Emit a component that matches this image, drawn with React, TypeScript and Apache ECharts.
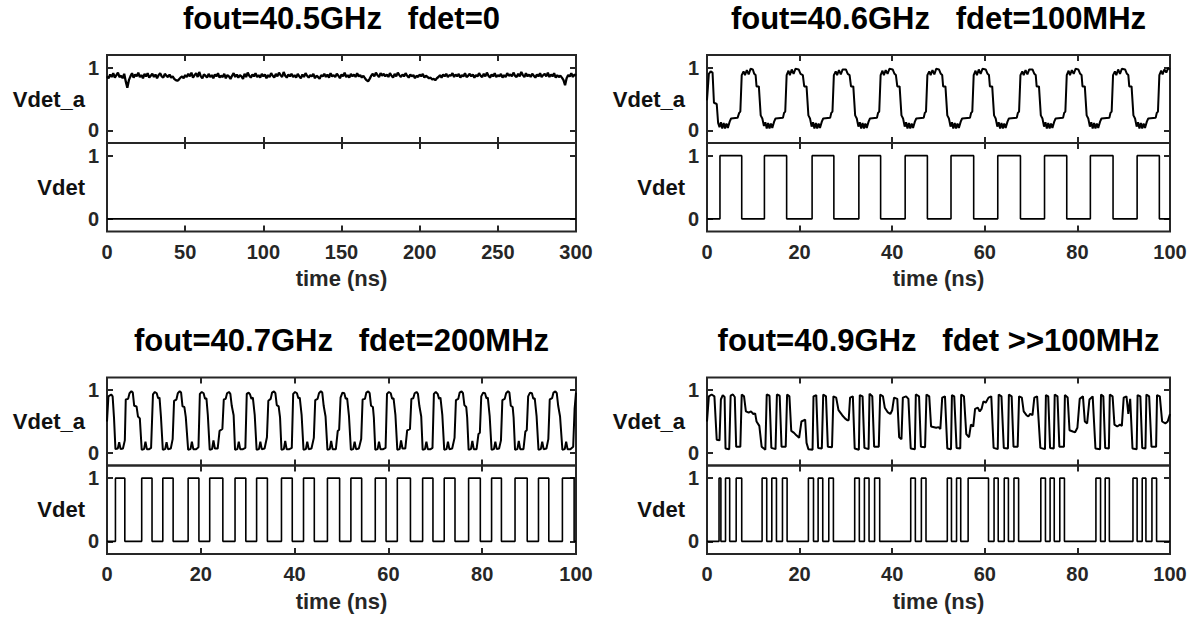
import React, { useEffect, useRef } from "react";
import * as echarts from "echarts";

// ---------------- data ----------------
const TITLES = [
  "fout=40.5GHz   fdet=0",
  "fout=40.6GHz   fdet=100MHz",
  "fout=40.7GHz   fdet=200MHz",
  "fout=40.9GHz   fdet >>100MHz",
];
const X_MAX = [300, 100, 100, 100];
const X_INTERVAL = [50, 20, 20, 20];
const Y_TICKS = [0, 1];
const X_NAME = "time (ns)";
const UPPER_LABEL = "Vdet_a";
const LOWER_LABEL = "Vdet";

// panel A (fdet = 0): Vdet_a sampled every 1 ns, Vdet stays at 0
const A_STEP_NS = 1;
const A_VDETA = [
  0.86, 0.83, 0.89, 0.85, 0.91, 0.84, 0.88, 0.92, 0.85, 0.87, 0.83, 0.9, 0.78, 0.68, 0.8, 0.86, 0.91, 0.84, 0.89, 0.86,
  0.92, 0.85, 0.88, 0.83, 0.9, 0.86, 0.91, 0.84, 0.87, 0.9, 0.85, 0.89, 0.83, 0.88, 0.91, 0.86, 0.84, 0.9, 0.87, 0.85,
  0.89, 0.84, 0.86, 0.82, 0.8, 0.79, 0.81, 0.84, 0.86, 0.83, 0.88, 0.85, 0.9, 0.86, 0.92, 0.84, 0.88, 0.91, 0.85, 0.93,
  0.86, 0.83, 0.89, 0.87, 0.84, 0.9, 0.85, 0.88, 0.83, 0.89, 0.86, 0.91, 0.84, 0.87, 0.85, 0.9, 0.83, 0.88, 0.86, 0.82,
  0.87, 0.91, 0.85, 0.89, 0.84, 0.88, 0.86, 0.82, 0.9, 0.85, 0.92, 0.87, 0.84, 0.89, 0.86, 0.91, 0.85, 0.88, 0.84, 0.9,
  0.86, 0.89, 0.83, 0.88, 0.85, 0.91, 0.87, 0.84, 0.9, 0.86, 0.92, 0.88, 0.85, 0.93, 0.87, 0.84, 0.89, 0.86, 0.9, 0.85,
  0.88, 0.84, 0.9, 0.86, 0.83, 0.89, 0.85, 0.91, 0.87, 0.84, 0.88, 0.86, 0.9, 0.83, 0.87, 0.85, 0.82, 0.88, 0.86, 0.9,
  0.85, 0.89, 0.84, 0.91, 0.86, 0.88, 0.85, 0.9, 0.87, 0.83, 0.89, 0.86, 0.92, 0.85, 0.88, 0.84, 0.9, 0.86, 0.89, 0.85,
  0.91, 0.86, 0.88, 0.84, 0.87, 0.83, 0.8, 0.78, 0.82, 0.87, 0.9, 0.86, 0.92, 0.88, 0.85, 0.91, 0.87, 0.9, 0.86, 0.89,
  0.85, 0.91, 0.87, 0.84, 0.9, 0.86, 0.92, 0.88, 0.85, 0.89, 0.86, 0.91, 0.87, 0.84, 0.89, 0.86, 0.88, 0.83, 0.87, 0.85,
  0.89, 0.86, 0.9, 0.84, 0.87, 0.85, 0.83, 0.84, 0.81, 0.82, 0.8, 0.83, 0.85, 0.88, 0.84, 0.89, 0.86, 0.9, 0.85, 0.88,
  0.87, 0.91, 0.85, 0.89, 0.86, 0.9, 0.84, 0.88, 0.86, 0.91, 0.85, 0.87, 0.9, 0.86, 0.89, 0.84, 0.88, 0.86, 0.91, 0.87,
  0.85, 0.9, 0.86, 0.92, 0.87, 0.84, 0.89, 0.86, 0.91, 0.85, 0.88, 0.86, 0.9, 0.84, 0.88, 0.85, 0.91, 0.87, 0.89, 0.86,
  0.92, 0.87, 0.85, 0.9, 0.86, 0.93, 0.88, 0.85, 0.91, 0.86, 0.89, 0.85, 0.9, 0.87, 0.84, 0.89, 0.86, 0.91, 0.85, 0.88,
  0.9, 0.86, 0.92, 0.85, 0.89, 0.86, 0.91, 0.84, 0.88, 0.85, 0.87, 0.84, 0.8, 0.72, 0.83, 0.88, 0.86, 0.91, 0.85, 0.89, 0.87,
];
const A_VDET_PULSES: [number, number][] = [];

// panel B (fdet = 100 MHz)
const B_VDETA: [number, number][] = [
  [0, 0.48], [0.4, 0.9], [0.8, 0.94], [1.2, 0.92], [1.5, 0.44], [2.1, 0.42], [2.4, 0.12], [2.7, 0.05],
  [3.0, 0.13], [3.3, 0.03], [3.6, 0.12], [3.9, 0.03], [4.2, 0.11], [4.5, 0.04], [4.9, 0.14], [5.2, 0.19],
  [6.6, 0.2], [6.95, 0.28],
  [7.2, 0.3], [7.5, 0.88], [7.9, 0.94], [8.2, 0.88], [8.6, 0.96], [9.0, 0.89], [9.4, 0.98], [9.9, 0.97],
  [10.2, 0.9], [10.5, 0.88], [10.7, 0.7], [11.2, 0.7], [11.6, 0.24], [11.95, 0.19], [12.3, 0.07],
  [12.6, 0.13], [12.9, 0.03], [13.2, 0.12], [13.5, 0.03], [13.8, 0.11], [14.1, 0.04], [14.5, 0.14],
  [14.8, 0.19], [16.4, 0.2], [16.65, 0.28],
  [16.9, 0.3], [17.2, 0.88], [17.6, 0.95], [17.9, 0.88], [18.3, 0.97], [18.7, 0.9], [19.1, 0.98], [19.8, 0.97],
  [20.2, 0.9], [20.7, 0.88], [21.0, 0.7], [21.5, 0.7], [21.9, 0.24], [22.25, 0.19], [22.6, 0.06],
  [22.9, 0.13], [23.2, 0.03], [23.5, 0.12], [23.8, 0.03], [24.1, 0.11], [24.4, 0.04], [24.8, 0.14],
  [25.1, 0.19], [26.6, 0.2], [26.85, 0.28],
  [27.1, 0.3], [27.4, 0.88], [27.8, 0.94], [28.1, 0.88], [28.5, 0.96], [28.9, 0.89], [29.3, 0.97], [30.0, 0.97],
  [30.4, 0.9], [30.8, 0.88], [31.1, 0.7], [31.6, 0.7], [32.0, 0.24], [32.35, 0.19], [32.7, 0.06],
  [33.0, 0.13], [33.3, 0.03], [33.6, 0.12], [33.9, 0.03], [34.2, 0.11], [34.5, 0.04], [34.9, 0.14],
  [35.2, 0.19], [36.7, 0.2], [36.95, 0.28],
  [37.2, 0.3], [37.5, 0.88], [37.9, 0.95], [38.2, 0.88], [38.6, 0.96], [39.0, 0.9], [39.4, 0.98], [40.1, 0.97],
  [40.5, 0.9], [40.8, 0.88], [41.1, 0.7], [41.6, 0.7], [42.0, 0.24], [42.35, 0.19], [42.7, 0.06],
  [43.0, 0.13], [43.3, 0.03], [43.6, 0.12], [43.9, 0.03], [44.2, 0.11], [44.5, 0.04], [44.9, 0.14],
  [45.2, 0.19], [46.8, 0.2], [47.05, 0.28],
  [47.3, 0.3], [47.6, 0.88], [48.0, 0.94], [48.3, 0.88], [48.7, 0.96], [49.1, 0.89], [49.5, 0.98], [50.1, 0.97],
  [50.5, 0.9], [50.8, 0.88], [51.0, 0.7], [51.5, 0.7], [51.9, 0.24], [52.25, 0.19], [52.6, 0.06],
  [52.9, 0.13], [53.2, 0.03], [53.5, 0.12], [53.8, 0.03], [54.1, 0.11], [54.4, 0.04], [54.8, 0.14],
  [55.1, 0.19], [56.8, 0.2], [57.05, 0.28],
  [57.3, 0.3], [57.6, 0.88], [58.0, 0.95], [58.3, 0.88], [58.7, 0.97], [59.1, 0.9], [59.5, 0.98], [60.2, 0.97],
  [60.6, 0.9], [60.9, 0.88], [61.1, 0.7], [61.6, 0.7], [62.0, 0.24], [62.35, 0.19], [62.7, 0.06],
  [63.0, 0.13], [63.3, 0.03], [63.6, 0.12], [63.9, 0.03], [64.2, 0.11], [64.5, 0.04], [64.9, 0.14],
  [65.2, 0.19], [66.9, 0.2], [67.15, 0.28],
  [67.4, 0.3], [67.7, 0.88], [68.1, 0.94], [68.4, 0.88], [68.8, 0.96], [69.2, 0.89], [69.6, 0.97], [70.3, 0.97],
  [70.7, 0.9], [71.0, 0.88], [71.2, 0.7], [71.7, 0.7], [72.1, 0.24], [72.45, 0.19], [72.8, 0.06],
  [73.1, 0.13], [73.4, 0.03], [73.7, 0.12], [74.0, 0.03], [74.3, 0.11], [74.6, 0.04], [75.0, 0.14],
  [75.3, 0.19], [76.9, 0.2], [77.15, 0.28],
  [77.4, 0.3], [77.7, 0.88], [78.1, 0.95], [78.4, 0.88], [78.8, 0.96], [79.2, 0.9], [79.6, 0.98], [80.2, 0.97],
  [80.6, 0.9], [80.9, 0.88], [81.1, 0.7], [81.6, 0.7], [82.0, 0.24], [82.35, 0.19], [82.7, 0.06],
  [83.0, 0.13], [83.3, 0.03], [83.6, 0.12], [83.9, 0.03], [84.2, 0.11], [84.5, 0.04], [84.9, 0.14],
  [85.2, 0.19], [86.9, 0.2], [87.15, 0.28],
  [87.4, 0.3], [87.7, 0.88], [88.1, 0.94], [88.4, 0.88], [88.8, 0.97], [89.2, 0.9], [89.6, 0.98], [90.3, 0.97],
  [90.7, 0.9], [91.0, 0.88], [91.2, 0.7], [91.7, 0.7], [92.1, 0.24], [92.45, 0.19], [92.8, 0.06],
  [93.1, 0.13], [93.4, 0.03], [93.7, 0.12], [94.0, 0.03], [94.3, 0.11], [94.6, 0.04], [95.0, 0.14],
  [95.3, 0.19], [96.9, 0.2], [97.15, 0.28],
  [97.4, 0.3], [97.7, 0.88], [98.1, 0.95], [98.4, 0.89], [98.8, 0.97], [99.2, 0.92], [99.6, 0.99], [100, 0.97],
];
const B_VDET_PULSES: [number, number][] = [
  [2.8, 7.5], [12.4, 17.2], [22.7, 27.4], [32.8, 37.5], [42.8, 47.6],
  [52.7, 57.6], [62.8, 67.7], [72.9, 77.7], [82.8, 87.7], [92.9, 97.7],
];

// panel C (fdet = 200 MHz)
const C_VDETA: [number, number][] = [
  [0, 0.5], [0.3, 0.9], [0.9, 0.93], [1.2, 0.9], [1.5, 0.55], [1.8, 0.06], [2.3, 0.07], [2.6, 0.17], [2.9, 0.06], [3.4, 0.07], [3.8, 0.2],
  [4.0, 0.85], [4.5, 0.86], [4.8, 0.95], [5.2, 0.98], [5.5, 0.96], [5.8, 0.75], [6.3, 0.74], [6.6, 0.58], [7.0, 0.55], [7.4, 0.05],
  [7.9, 0.06], [8.2, 0.18], [8.5, 0.06], [9.0, 0.06], [9.4, 0.08],
  [9.8, 0.93], [10.2, 0.97], [10.6, 0.95], [10.9, 0.87], [11.2, 0.88], [11.5, 0.58], [11.9, 0.05],
  [12.4, 0.06], [12.7, 0.17], [13.0, 0.06], [13.6, 0.07], [14.0, 0.22],
  [14.3, 0.83], [14.8, 0.85], [15.1, 0.95], [15.5, 0.98], [15.8, 0.96], [16.1, 0.74], [16.5, 0.73], [16.8, 0.57], [17.3, 0.05],
  [17.8, 0.06], [18.1, 0.18], [18.4, 0.06], [19.0, 0.06], [19.5, 0.09],
  [19.8, 0.94], [20.2, 0.97], [20.6, 0.95], [20.9, 0.86], [21.2, 0.87], [21.5, 0.6], [21.9, 0.05],
  [22.4, 0.06], [22.7, 0.2], [23.0, 0.07], [23.6, 0.07], [24.0, 0.35], [24.6, 0.38],
  [24.9, 0.85], [25.3, 0.86], [25.6, 0.95], [26.0, 0.97], [26.3, 0.94], [26.6, 0.75], [27.0, 0.6], [27.3, 0.05],
  [27.8, 0.06], [28.1, 0.18], [28.4, 0.06], [29.0, 0.06], [29.5, 0.08],
  [29.8, 0.94], [30.2, 0.96], [30.5, 0.93], [30.8, 0.86], [31.1, 0.88], [31.5, 0.6], [31.9, 0.05],
  [32.4, 0.06], [32.7, 0.18], [33.0, 0.06], [33.6, 0.07], [34.1, 0.25],
  [34.4, 0.83], [34.9, 0.86], [35.2, 0.96], [35.6, 0.98], [35.9, 0.95], [36.2, 0.76], [36.6, 0.74], [36.9, 0.56], [37.2, 0.05],
  [37.7, 0.06], [38.0, 0.19], [38.3, 0.06], [38.9, 0.06], [39.4, 0.08],
  [39.7, 0.94], [40.1, 0.97], [40.5, 0.95], [40.8, 0.87], [41.1, 0.88], [41.5, 0.6], [41.9, 0.05],
  [42.4, 0.06], [42.7, 0.18], [43.0, 0.06], [43.6, 0.07], [44.1, 0.24],
  [44.4, 0.84], [44.9, 0.86], [45.2, 0.95], [45.6, 0.98], [45.9, 0.96], [46.2, 0.75], [46.6, 0.58], [47.0, 0.05],
  [47.5, 0.06], [47.8, 0.19], [48.1, 0.06], [48.8, 0.06], [49.2, 0.35], [49.5, 0.37],
  [49.8, 0.88], [50.2, 0.96], [50.6, 0.95], [50.9, 0.86], [51.2, 0.87], [51.6, 0.58], [52.0, 0.05],
  [52.5, 0.06], [52.8, 0.18], [53.1, 0.06], [53.7, 0.07], [54.2, 0.22],
  [54.5, 0.85], [55.0, 0.86], [55.3, 0.96], [55.7, 0.98], [56.0, 0.95], [56.3, 0.75], [56.7, 0.73], [56.9, 0.56], [57.2, 0.05],
  [57.7, 0.06], [58.0, 0.18], [58.3, 0.06], [58.9, 0.06], [59.4, 0.08],
  [59.7, 0.94], [60.1, 0.97], [60.5, 0.95], [60.8, 0.86], [61.1, 0.87], [61.5, 0.6], [61.9, 0.05],
  [62.4, 0.06], [62.7, 0.2], [63.0, 0.07], [63.6, 0.07], [64.0, 0.36], [64.6, 0.38],
  [64.9, 0.86], [65.3, 0.87], [65.6, 0.95], [66.0, 0.97], [66.3, 0.94], [66.6, 0.75], [67.0, 0.58], [67.3, 0.05],
  [67.8, 0.06], [68.1, 0.18], [68.4, 0.06], [69.0, 0.06], [69.4, 0.08],
  [69.7, 0.94], [70.1, 0.97], [70.5, 0.94], [70.8, 0.86], [71.1, 0.88], [71.5, 0.6], [71.9, 0.05],
  [72.4, 0.06], [72.7, 0.18], [73.0, 0.06], [73.6, 0.07], [74.1, 0.24],
  [74.4, 0.84], [74.9, 0.86], [75.2, 0.96], [75.6, 0.98], [75.9, 0.95], [76.2, 0.76], [76.6, 0.73], [76.8, 0.56], [77.1, 0.05],
  [77.6, 0.06], [77.9, 0.19], [78.2, 0.06], [78.8, 0.06], [79.2, 0.3], [79.5, 0.32],
  [79.8, 0.9], [80.2, 0.96], [80.6, 0.95], [80.9, 0.87], [81.2, 0.88], [81.6, 0.58], [82.0, 0.05],
  [82.5, 0.06], [82.8, 0.18], [83.1, 0.06], [83.6, 0.07], [84.0, 0.2],
  [84.3, 0.84], [84.8, 0.86], [85.1, 0.95], [85.5, 0.98], [85.8, 0.96], [86.1, 0.75], [86.5, 0.73], [86.7, 0.56], [87.0, 0.05],
  [87.5, 0.06], [87.8, 0.19], [88.1, 0.06], [88.8, 0.06], [89.2, 0.34], [89.5, 0.36],
  [89.8, 0.9], [90.2, 0.96], [90.6, 0.95], [90.9, 0.86], [91.2, 0.87], [91.6, 0.58], [92.0, 0.05],
  [92.5, 0.06], [92.8, 0.18], [93.1, 0.06], [93.7, 0.07], [94.1, 0.22],
  [94.4, 0.85], [94.9, 0.87], [95.2, 0.96], [95.6, 0.98], [95.9, 0.95], [96.2, 0.75], [96.6, 0.58], [97.1, 0.05],
  [97.6, 0.06], [97.9, 0.18], [98.2, 0.06], [98.8, 0.06], [99.4, 0.1], [99.7, 0.7], [100, 0.96],
];
const C_VDET_PULSES: [number, number][] = [
  [1.8, 3.8], [7.4, 9.6], [11.9, 14.1], [17.3, 19.6], [21.9, 24.7], [27.3, 29.6], [31.9, 34.2],
  [37.2, 39.5], [41.9, 44.2], [47.0, 49.6], [52.0, 54.3], [57.2, 59.5], [61.9, 64.7], [67.3, 69.5],
  [71.9, 74.2], [77.1, 79.6], [82.0, 84.1], [87.0, 89.6], [92.0, 94.2], [97.1, 99.6],
];

// panel D (fdet >> 100 MHz)
const D_VDETA: [number, number][] = [
  [0, 0.5], [0.4, 0.9], [1.0, 0.93], [1.6, 0.9], [2.1, 0.21], [2.7, 0.2], [3.0, 0.85], [3.4, 0.92], [3.8, 0.89],
  [4.0, 0.07], [4.8, 0.06], [5.1, 0.91], [5.6, 0.93], [6.0, 0.89], [6.3, 0.1], [7.2, 0.1], [7.5, 0.93], [8.0, 0.9],
  [8.4, 0.66], [9.0, 0.64], [9.5, 0.66], [10.0, 0.62], [10.4, 0.63], [10.7, 0.5], [11.3, 0.43], [11.8, 0.1],
  [12.6, 0.05], [12.9, 0.93], [13.5, 0.91], [13.9, 0.08], [14.8, 0.06], [15.1, 0.93], [15.7, 0.91], [16.1, 0.1],
  [17.0, 0.1], [17.3, 0.93], [17.8, 0.9], [18.2, 0.35], [18.8, 0.32], [19.3, 0.28], [19.9, 0.24], [20.4, 0.5],
  [21.2, 0.53], [21.5, 0.16], [21.9, 0.06],
  [22.8, 0.05], [23.0, 0.9], [23.6, 0.92], [24.0, 0.08], [24.8, 0.07], [25.1, 0.93], [25.7, 0.9], [26.1, 0.1],
  [27.0, 0.09], [27.3, 0.9], [27.9, 0.88], [28.4, 0.68], [29.2, 0.6], [29.8, 0.55], [30.3, 0.52], [30.6, 0.52],
  [30.9, 0.88], [31.5, 0.9], [31.9, 0.07],
  [32.8, 0.05], [33.0, 0.92], [33.6, 0.9], [34.0, 0.08], [34.9, 0.06], [35.1, 0.94], [35.7, 0.9], [36.1, 0.1],
  [37.1, 0.1], [37.4, 0.93], [38.0, 0.9], [38.4, 0.72], [39.0, 0.65], [39.6, 0.62], [40.0, 0.68], [40.4, 0.88],
  [41.1, 0.86], [41.5, 0.25], [42.0, 0.22], [42.3, 0.88], [43.0, 0.9], [43.5, 0.86], [44.0, 0.07],
  [44.9, 0.06], [45.1, 0.93], [45.8, 0.9], [46.2, 0.1], [47.1, 0.09], [47.4, 0.93], [48.0, 0.9], [48.4, 0.42],
  [49.5, 0.4], [50.0, 0.41], [50.4, 0.38], [50.8, 0.88], [51.4, 0.9], [51.9, 0.07],
  [52.7, 0.06], [52.9, 0.92], [53.4, 0.9], [53.9, 0.08], [54.7, 0.07], [54.9, 0.93], [55.5, 0.9], [56.0, 0.3],
  [56.6, 0.25], [57.0, 0.45], [57.5, 0.42], [57.9, 0.7], [58.5, 0.72], [58.9, 0.66], [59.3, 0.7], [59.7, 0.82],
  [60.2, 0.8], [60.8, 0.88], [61.4, 0.9], [61.9, 0.08],
  [62.8, 0.06], [63.0, 0.93], [63.6, 0.9], [64.1, 0.08], [65.0, 0.07], [65.2, 0.93], [65.8, 0.9], [66.2, 0.1],
  [67.1, 0.1], [67.4, 0.9], [68.0, 0.88], [68.4, 0.66], [69.0, 0.6], [69.4, 0.58], [69.8, 0.62], [70.3, 0.6],
  [70.7, 0.88], [71.3, 0.9], [72.0, 0.08],
  [73.0, 0.06], [73.2, 0.92], [73.7, 0.9], [74.1, 0.08], [74.9, 0.07], [75.1, 0.93], [75.7, 0.9], [76.1, 0.1],
  [77.1, 0.1], [77.3, 0.92], [77.9, 0.88], [78.3, 0.36], [79.0, 0.34], [79.5, 0.33], [80.0, 0.4], [80.5, 0.86],
  [81.2, 0.9], [81.6, 0.5], [82.1, 0.47], [82.6, 0.85], [83.3, 0.9], [83.9, 0.07],
  [84.9, 0.06], [85.1, 0.93], [85.6, 0.9], [86.0, 0.08], [86.8, 0.07], [87.0, 0.93], [87.6, 0.9], [88.0, 0.45],
  [88.6, 0.42], [89.2, 0.45], [89.6, 0.43], [90.0, 0.88], [90.6, 0.9], [91.0, 0.62], [91.4, 0.86], [91.9, 0.07],
  [92.8, 0.06], [93.0, 0.92], [93.6, 0.9], [94.0, 0.08], [94.7, 0.07], [94.9, 0.93], [95.5, 0.9], [96.0, 0.1],
  [97.0, 0.1], [97.2, 0.92], [97.8, 0.9], [98.3, 0.5], [99.0, 0.47], [99.5, 0.5], [100, 0.62],
];
const D_VDET_PULSES: [number, number][] = [
  [2.6, 3.0], [4.0, 4.9], [6.3, 7.5], [11.9, 12.9], [14.0, 15.0], [16.3, 17.3], [21.9, 23.0],
  [24.0, 25.0], [26.3, 27.3], [31.9, 32.9], [34.0, 35.0], [36.2, 37.3], [44.0, 45.0], [46.3, 47.3],
  [51.9, 52.8], [53.9, 54.8], [56.4, 60.8], [62.0, 62.9], [64.2, 65.1], [66.3, 67.3], [72.1, 73.1],
  [74.1, 75.0], [76.2, 77.2], [84.0, 85.0], [86.0, 86.9], [92.0, 92.9], [94.0, 94.8], [96.1, 97.1],
];

// ---------------- helpers ----------------
function pulsesToPoints(pulses: [number, number][], xmax: number): [number, number][] {
  const pts: [number, number][] = [[0, 0]];
  for (const [r, f] of pulses) {
    pts.push([r, 0], [r, 1], [f, 1], [f, 0]);
  }
  pts.push([xmax, 0]);
  return pts;
}

const AXIS_COLOR = "#262626";
const FONT = "Liberation Sans, Arial, sans-serif";

export default function App() {
  const ref = useRef<HTMLDivElement>(null);

  useEffect(() => {
    document.body.style.margin = "0";
    if (!ref.current) return;
    const chart = echarts.init(ref.current, undefined, { renderer: "svg" });

    const aPoints: [number, number][] = A_VDETA.map((v, i) => [i * A_STEP_NS, v]);
    const upperData = [aPoints, B_VDETA, C_VDETA, D_VDETA];
    const lowerData = [
      pulsesToPoints(A_VDET_PULSES, X_MAX[0]),
      pulsesToPoints(B_VDET_PULSES, X_MAX[1]),
      pulsesToPoints(C_VDET_PULSES, X_MAX[2]),
      pulsesToPoints(D_VDET_PULSES, X_MAX[3]),
    ];

    const panels = [
      { left: 107, width: 469, top: 55 },
      { left: 707, width: 463, top: 55 },
      { left: 107, width: 469, top: 377.5 },
      { left: 707, width: 463, top: 377.5 },
    ];
    const UPPER_H = 88;
    const LOWER_H = 88.5;

    const grids: any[] = [];
    const xAxes: any[] = [];
    const yAxes: any[] = [];
    const series: any[] = [];
    const graphics: any[] = [];

    const tickStyle = { color: AXIS_COLOR, width: 2 };
    const labelStyle = { fontFamily: FONT, fontWeight: "bold", fontSize: 20, color: AXIS_COLOR };

    panels.forEach((p, pi) => {
      for (let s = 0; s < 2; s++) {
        const g = pi * 2 + s;
        const top = s === 0 ? p.top : p.top + UPPER_H;
        const height = s === 0 ? UPPER_H : LOWER_H;
        grids.push({
          left: p.left,
          top,
          width: p.width,
          height,
          show: true,
          borderColor: AXIS_COLOR,
          borderWidth: 2,
          backgroundColor: "transparent",
          containLabel: false,
        });
        const xBase = {
          gridIndex: g,
          type: "value",
          min: 0,
          max: X_MAX[pi],
          interval: X_INTERVAL[pi],
          axisLine: { show: false, onZero: false },
          axisTick: { show: true, inside: true, length: 6, lineStyle: tickStyle },
          splitLine: { show: false },
        };
        xAxes.push({
          ...xBase,
          position: "bottom",
          axisLabel: { show: s === 1, margin: 10, ...labelStyle },
          name: s === 1 ? X_NAME : "",
          nameLocation: "middle",
          nameGap: 36,
          nameTextStyle: { fontFamily: FONT, fontWeight: "bold", fontSize: 22, color: AXIS_COLOR },
        });
        xAxes.push({ ...xBase, position: "top", axisLabel: { show: false } });
        const yBase = {
          gridIndex: g,
          type: "value",
          min: -0.2,
          max: 1.2,
          axisLine: { show: false, onZero: false },
          axisTick: { show: true, inside: true, length: 6, lineStyle: tickStyle, customValues: Y_TICKS },
          splitLine: { show: false },
        };
        yAxes.push({
          ...yBase,
          position: "left",
          axisLabel: { show: true, margin: 8, customValues: Y_TICKS, ...labelStyle },
        });
        yAxes.push({ ...yBase, position: "right", axisLabel: { show: false } });

        series.push({
          type: "line",
          xAxisIndex: g * 2,
          yAxisIndex: g * 2,
          data: s === 0 ? upperData[pi] : lowerData[pi],
          showSymbol: false,
          symbol: "none",
          silent: true,
          clip: true,
          lineStyle: { color: "#000", width: s === 0 ? (pi === 0 ? 2.3 : 2) : 1.6 },
        });

        graphics.push({
          type: "text",
          x: p.left - 22,
          y: top + height / 2,
          style: {
            text: s === 0 ? UPPER_LABEL : LOWER_LABEL,
            font: `bold 22px ${FONT}`,
            fill: "#111",
            align: "right",
            verticalAlign: "middle",
          },
        });
      }
      graphics.push({
        type: "text",
        x: p.left + p.width / 2,
        y: p.top - 37,
        style: {
          text: TITLES[pi],
          font: `bold 31px ${FONT}`,
          fill: "#000",
          align: "center",
          verticalAlign: "middle",
        },
      });
    });

    chart.setOption({
      animation: false,
      backgroundColor: "#fff",
      grid: grids,
      xAxis: xAxes,
      yAxis: yAxes,
      series,
      graphic: graphics,
    });

    return () => chart.dispose();
  }, []);

  return <div ref={ref} style={{ width: 1191, height: 617 }} />;
}
